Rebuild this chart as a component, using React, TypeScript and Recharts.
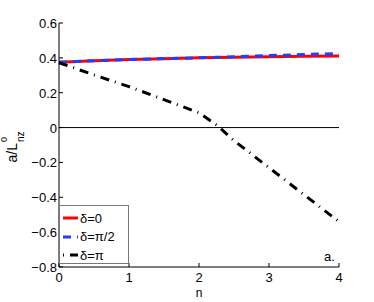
import { LineChart, Line, XAxis, YAxis, ReferenceLine } from "recharts";

const nValues = [0, 0.5, 1, 1.5, 2, 2.25, 2.5, 3, 3.5, 4];
const delta0 = [0.375, 0.383, 0.39, 0.395, 0.4, 0.402, 0.404, 0.407, 0.409, 0.411];
const deltaHalfPi = [0.375, 0.383, 0.39, 0.396, 0.4, 0.403, 0.406, 0.413, 0.419, 0.425];
const deltaPi = [0.372, 0.302, 0.235, 0.16, 0.085, 0.015, -0.075, -0.23, -0.385, -0.54];

const xTicks = [0, 1, 2, 3, 4];
const yTicks = [-0.8, -0.6, -0.4, -0.2, 0, 0.2, 0.4, 0.6];

const seriesDefs = [
  { key: "d0", name: "δ=0", color: "#ff0000", dash: undefined as string | undefined },
  { key: "dHalf", name: "δ=π/2", color: "#1f3fff", dash: "8 6" },
  { key: "dPi", name: "δ=π", color: "#000000", dash: "9 6 1 6" },
];

const data = nValues.map((n, i) => ({
  n,
  d0: delta0[i],
  dHalf: deltaHalfPi[i],
  dPi: deltaPi[i],
}));

const FONT = "'Liberation Sans', Arial, sans-serif";

function fmt(v: number) {
  const s = v === 0 ? "0" : String(v);
  return s.replace("-", "\u2212");
}

function BottomTick({ x, y, payload }: any) {
  return (
    <g>
      <line x1={x} x2={x} y1={y} y2={y - 4} stroke="#000" strokeWidth={1} />
      <text x={x} y={y + 15} textAnchor="middle" fontFamily={FONT} fontSize={13} fill="#000">
        {fmt(payload.value)}
      </text>
    </g>
  );
}

function TopTick({ x, y }: any) {
  return <line x1={x} x2={x} y1={y} y2={y + 4} stroke="#000" strokeWidth={1} />;
}

function LeftTick({ x, y, payload }: any) {
  return (
    <g>
      <line x1={x} x2={x + 4} y1={y} y2={y} stroke="#000" strokeWidth={1} />
      <text x={x - 2} y={y + 5} textAnchor="end" fontFamily={FONT} fontSize={13} fill="#000">
        {fmt(payload.value)}
      </text>
    </g>
  );
}

function RightTick({ x, y }: any) {
  return <line x1={x} x2={x - 4} y1={y} y2={y} stroke="#000" strokeWidth={1} />;
}

function XLabel() {
  return (
    <text x={199} y={297} textAnchor="middle" fontFamily={FONT} fontSize={12} fill="#000">
      n
    </text>
  );
}

function YLabel() {
  return (
    <text
      transform="translate(17,147) rotate(-90)"
      textAnchor="middle"
      fontFamily={FONT}
      fontSize={14}
      fill="#000"
    >
      a/L
      <tspan fontSize={9} dy={-10} dx={1}>0</tspan>
      <tspan fontSize={10} dy={17} dx={-5}>nz</tspan>
    </text>
  );
}

function LegendBox() {
  return (
    <div
      style={{
        position: "absolute",
        left: 59,
        top: 205,
        width: 70,
        height: 59,
        border: "1px solid #777",
        background: "#fff",
        fontFamily: FONT,
        fontSize: 13,
        boxSizing: "border-box",
        paddingTop: 3,
      }}
    >
      {seriesDefs.map((s) => (
        <div key={s.key} style={{ display: "flex", alignItems: "center", height: 18.5 }}>
          <svg width={19} height={8} style={{ marginLeft: 1 }}>
            <line
              x1={2}
              x2={17}
              y1={4}
              y2={4}
              stroke={s.color}
              strokeWidth={3}
              strokeDasharray={s.key === "dPi" ? "1 6 9 6" : s.key === "dHalf" ? "8 6" : undefined}
            />
          </svg>
          <span style={{ lineHeight: "13px" }}>{s.name}</span>
        </div>
      ))}
    </div>
  );
}

export default function App() {
  return (
    <div style={{ position: "absolute", left: 0, top: 0, width: 374, height: 302, background: "#fff" }}>
      <LineChart
        width={374}
        height={302}
        data={data}
        margin={{ top: 23, right: 35, left: 0, bottom: 0 }}
      >
        <XAxis
          xAxisId="bottom"
          dataKey="n"
          type="number"
          domain={[0, 4]}
          ticks={xTicks}
          height={35}
          tickSize={0}
          tickMargin={0}
          tickLine={false}
          axisLine={{ stroke: "#000" }}
          tick={<BottomTick />}
          interval={0}
          label={<XLabel />}
        />
        <XAxis
          xAxisId="top"
          orientation="top"
          dataKey="n"
          type="number"
          domain={[0, 4]}
          ticks={xTicks}
          height={0}
          tickSize={0}
          tickMargin={0}
          tickLine={false}
          axisLine={{ stroke: "#000" }}
          tick={<TopTick />}
          interval={0}
        />
        <YAxis
          yAxisId="left"
          type="number"
          domain={[-0.8, 0.6]}
          ticks={yTicks}
          width={59}
          tickSize={0}
          tickMargin={0}
          tickLine={false}
          axisLine={{ stroke: "#000" }}
          tick={<LeftTick />}
          interval={0}
          label={<YLabel />}
        />
        <YAxis
          yAxisId="right"
          orientation="right"
          type="number"
          domain={[-0.8, 0.6]}
          ticks={yTicks}
          width={0}
          tickSize={0}
          tickMargin={0}
          tickLine={false}
          axisLine={{ stroke: "#000" }}
          tick={<RightTick />}
          interval={0}
        />
        <ReferenceLine xAxisId="bottom" yAxisId="left" y={0} stroke="#000" strokeWidth={1} />
        {seriesDefs.map((s) => (
          <Line
            key={s.key}
            xAxisId="bottom"
            yAxisId="left"
            dataKey={s.key}
            name={s.name}
            type="linear"
            stroke={s.color}
            strokeWidth={3}
            strokeDasharray={s.dash}
            dot={false}
            isAnimationActive={false}
          />
        ))}
      </LineChart>
      <LegendBox />
      <div
        style={{
          position: "absolute",
          left: 324,
          top: 250,
          fontFamily: FONT,
          fontSize: 13,
          lineHeight: "13px",
          color: "#000",
        }}
      >
        a.
      </div>
    </div>
  );
}
